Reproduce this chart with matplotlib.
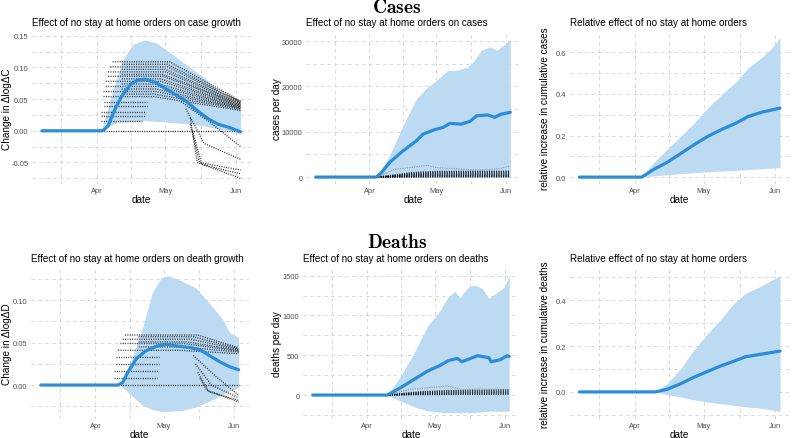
import matplotlib
matplotlib.use('Agg')
import matplotlib.pyplot as plt
import matplotlib.dates as mdates
from matplotlib.ticker import MultipleLocator, AutoMinorLocator, FixedLocator
import numpy as np

plt.rcParams['font.family'] = ['Liberation Sans', 'DejaVu Sans']
plt.rcParams['mathtext.fontset'] = 'cm'
plt.rcParams['lines.scale_dashes'] = False

Y = '2020-'

# ---- case growth (top left) ----
cg_line_dates = ['03-08', '04-03', '04-04', '04-06', '04-09', '04-12', '04-16', '04-19', '04-22', '04-27',
                 '05-01', '05-05', '05-10', '05-15', '05-20', '05-24', '05-29', '06-03']
cg_line = [0, 0, 0.001, 0.008, 0.034, 0.055, 0.074, 0.080, 0.0815, 0.076,
           0.067, 0.058, 0.047, 0.032, 0.0185, 0.0106, 0.0054, -0.0016]
cg_band_dates = ['03-08', '04-03', '04-07', '04-10', '04-13', '04-17', '04-22', '04-27', '05-01',
                 '05-07', '05-13', '05-19', '05-24', '05-30', '06-03']
cg_hi = [0, 0, 0.05, 0.087, 0.116, 0.137, 0.1435, 0.139, 0.129, 0.113, 0.097, 0.0815, 0.063, 0.045, 0.039]
cg_lo = [0, 0, 0.008, 0.013, 0.014, 0.0147, 0.016, 0.015, 0.014, 0.012, 0.0106, 0.007, 0.003, 0, -0.005]
cg_states = [
    (['04-08', '05-03', '06-03'], [0.109, 0.109, 0.047]),
    (['04-12', '05-02', '06-03'], [0.105, 0.105, 0.046]),
    (['04-07', '05-02', '06-03'], [0.101, 0.101, 0.045]),
    (['04-12', '05-01', '06-03'], [0.097, 0.097, 0.044]),
    (['04-06', '05-01', '06-03'], [0.093, 0.093, 0.043]),
    (['04-12', '04-30', '06-03'], [0.089, 0.089, 0.042]),
    (['04-06', '04-30', '06-03'], [0.086, 0.086, 0.041]),
    (['04-12', '04-29', '06-03'], [0.082, 0.082, 0.040]),
    (['04-05', '04-29', '06-03'], [0.078, 0.078, 0.039]),
    (['04-12', '04-28', '06-03'], [0.074, 0.074, 0.038]),
    (['04-05', '04-28', '06-03'], [0.070, 0.070, 0.037]),
    (['04-12', '04-27', '06-03'], [0.066, 0.066, 0.036]),
    (['04-04', '04-27', '06-03'], [0.062, 0.062, 0.035]),
    (['04-12', '04-26', '06-03'], [0.058, 0.058, 0.034]),
    (['04-04', '04-26', '06-03'], [0.054, 0.054, 0.032]),
    (['04-04', '04-23'], [0.046, 0.046]),
    (['04-04', '04-23'], [0.039, 0.039]),
    (['04-03', '04-22'], [0.030, 0.030]),
    (['04-03', '04-22'], [0.023, 0.023]),
    (['04-03', '04-21'], [0.015, 0.015]),
    (['05-08', '05-20', '06-03'], [0.046, 0.015, -0.025]),
    (['05-10', '05-18', '06-03'], [0.035, -0.02, -0.045]),
    (['05-12', '05-15', '06-03'], [0.02, -0.05, -0.075]),
    (['05-12', '05-16', '06-03'], [0.01, -0.05, -0.062]),
    (['05-13', '05-17', '06-03'], [0.0, -0.053, -0.068]),
    (['04-02', '06-03'], [0, 0]),
]

# ---- cases per day (top middle) ----
cs_line_dates = ['03-08', '04-04', '04-06', '04-10', '04-16', '04-22', '04-25', '04-30', '05-04', '05-07',
                 '05-12', '05-16', '05-19', '05-24', '05-27', '05-30', '06-03']
cs_line = [0, 0, 750, 3200, 5780, 8000, 9490, 10440, 10970, 11860,
           11700, 12300, 13550, 13700, 13200, 13900, 14300]
cs_band_dates = ['03-08', '04-04', '04-10', '04-16', '04-22', '04-27', '05-01', '05-06', '05-10', '05-15',
                 '05-18', '05-21', '05-25', '05-28', '06-01', '06-03']
cs_hi = [0, 0, 4670, 11330, 17270, 19850, 21330, 23550, 23550, 24300, 25780, 28000, 28750, 28000, 29500, 30400]
cs_lo = [0] * len(cs_hi)
cs_grey = (['04-05', '04-12', '04-19', '04-27', '05-01', '05-09', '05-19', '05-29', '06-03'],
           [0, 1700, 2080, 2600, 2080, 1860, 1560, 1860, 2440])
cs_states = [
    (['04-05', '04-20', '05-01', '06-03'], [0, 1000, 1250, 1300]),
    (['04-05', '04-20', '05-01', '06-03'], [0, 800, 1050, 1100]),
    (['04-05', '04-20', '05-01', '06-03'], [0, 650, 850, 900]),
    (['04-06', '04-20', '05-01', '06-03'], [0, 500, 650, 700]),
    (['04-06', '04-20', '05-01', '06-03'], [0, 350, 480, 520]),
    (['04-07', '04-20', '05-01', '06-03'], [0, 220, 320, 350]),
    (['04-07', '04-20', '05-01', '06-03'], [0, 100, 170, 190]),
    (['04-08', '06-03'], [0, 40]),
]

# ---- relative cumulative cases (top right) ----
rc_dates = ['03-08', '04-04', '04-09', '04-15', '04-21', '04-27', '05-03', '05-09', '05-15', '05-20',
            '05-26', '05-30', '06-03']
rc_line = [0, 0, 0.036, 0.071, 0.114, 0.158, 0.198, 0.231, 0.26, 0.291, 0.312, 0.322, 0.332]
rc_hi = [0, 0, 0.068, 0.133, 0.198, 0.263, 0.337, 0.401, 0.458, 0.523, 0.575, 0.615, 0.67]
rc_lo = [0, 0, 0.006, 0.012, 0.017, 0.022, 0.026, 0.03, 0.033, 0.036, 0.04, 0.043, 0.046]

# ---- death growth (bottom left) ----
dg_line_dates = ['03-08', '04-11', '04-13', '04-15', '04-19', '04-23', '04-28', '05-02', '05-07', '05-13',
                 '05-17', '05-21', '05-26', '05-30', '06-03']
dg_line = [0, 0, 0.003, 0.014, 0.031, 0.040, 0.046, 0.048, 0.046, 0.044, 0.0416, 0.035, 0.027, 0.0216, 0.018]
dg_band_dates = ['03-08', '04-12', '04-17', '04-22', '04-26', '04-30', '05-03', '05-09', '05-15', '05-21',
                 '05-27', '05-30', '06-03']
dg_hi = [0, 0, 0.031, 0.07, 0.109, 0.1267, 0.129, 0.1227, 0.115, 0.097, 0.0776, 0.062, 0.056]
dg_lo = [0, 0, -0.0126, -0.024, -0.029, -0.031, -0.031, -0.030, -0.026, -0.019, -0.011, -0.0067, -0.003]
dg_states = [
    (['04-14', '05-16', '06-03'], [0.059, 0.059, 0.044]),
    (['04-20', '05-14', '06-03'], [0.057, 0.057, 0.043]),
    (['04-13', '05-13', '06-03'], [0.054, 0.054, 0.042]),
    (['04-20', '05-11', '06-03'], [0.051, 0.051, 0.041]),
    (['04-12', '05-10', '06-03'], [0.049, 0.049, 0.040]),
    (['04-20', '05-09', '06-03'], [0.045, 0.045, 0.039]),
    (['04-11', '05-08', '06-03'], [0.041, 0.041, 0.037]),
    (['04-10', '04-29'], [0.033, 0.033]),
    (['04-10', '04-29'], [0.025, 0.025]),
    (['04-09', '04-29'], [0.0165, 0.0165]),
    (['04-09', '04-28'], [0.008, 0.008]),
    (['05-14', '05-24', '06-03'], [0.035, 0.01, -0.012]),
    (['05-15', '05-22', '06-03'], [0.025, 0.0, -0.015]),
    (['05-16', '05-21', '06-03'], [0.015, -0.008, -0.018]),
    (['05-17', '05-20', '06-03'], [0.008, -0.006, -0.02]),
    (['04-08', '06-03'], [0, 0]),
]

# ---- deaths per day (bottom middle) ----
ds_line_dates = ['03-08', '04-10', '04-16', '04-22', '04-28', '05-03', '05-07', '05-11', '05-13', '05-17',
                 '05-20', '05-25', '05-26', '05-30', '06-02', '06-03']
ds_line = [0, 0, 94, 199, 304, 367, 431, 461, 418, 461, 494, 469, 418, 443, 494, 486]
ds_band_dates = ['03-08', '04-10', '04-16', '04-22', '04-28', '05-03', '05-07', '05-10', '05-12', '05-16',
                 '05-19', '05-22', '05-25', '05-29', '06-01', '06-03']
ds_hi = [0, 0, 241, 537, 874, 1044, 1234, 1305, 1221, 1361, 1381, 1339, 1213, 1297, 1361, 1500]
ds_lo = [0, 0, -76, -150, -200, -215, -220, -222, -223, -222, -218, -210, -203, -203, -203, -203]
ds_grey = [
    (['04-10', '04-20', '04-29', '05-06', '05-12'], [0, 72, 94, 114, 81]),
    (['04-10', '04-25', '05-10', '05-20', '06-03'], [0, 45, 60, 75, 70]),
]
ds_states = [
    (['04-10', '04-25', '05-10', '06-03'], [0, 40, 55, 62]),
    (['04-10', '04-25', '05-10', '06-03'], [0, 30, 42, 48]),
    (['04-11', '04-25', '05-10', '06-03'], [0, 20, 30, 35]),
    (['04-11', '04-25', '05-10', '06-03'], [0, 12, 18, 22]),
    (['04-12', '04-25', '05-10', '06-03'], [0, 5, 8, 10]),
]

# ---- relative cumulative deaths (bottom right) ----
rd_dates = ['03-08', '04-10', '04-15', '04-21', '04-26', '05-02', '05-08', '05-14', '05-19', '05-25', '06-03']
rd_line = [0, 0, 0.0116, 0.036, 0.061, 0.087, 0.112, 0.134, 0.153, 0.163, 0.178]
rd_hi = [0, 0, 0.036, 0.102, 0.175, 0.247, 0.313, 0.386, 0.429, 0.458, 0.506]
rd_lo = [0, 0, -0.012, -0.022, -0.033, -0.0436, -0.051, -0.0585, -0.065, -0.07, -0.085]

BLUE = '#2b8cd8'
BAND = '#bcdaf2'
GRID = '#d2d2d2'
DOTS = (0, (0.7, 1.0))


def dt(lst):
    return np.array([Y + s for s in lst], dtype='datetime64[D]')


fig = plt.figure(figsize=(7.93, 4.39), dpi=100)
W, H = 793.0, 439.0


def panel(left, right, top, bottom):
    ax = fig.add_axes([left / W, 1 - bottom / H, (right - left) / W, (bottom - top) / H])
    ax.box_px = (left, right, top, bottom)
    return ax


def style(ax, title, ylabel, ylim, ymaj, yfmt, ylab_x):
    left, right, top, bottom = ax.box_px
    ax.set_xlim(np.datetime64('2020-03-08') - np.timedelta64(104, 'h'),
                np.datetime64('2020-06-03') + np.timedelta64(104, 'h'))
    ax.set_ylim(*ylim)
    ax.xaxis.set_major_locator(FixedLocator(mdates.date2num(dt(['04-01', '05-01', '06-01']))))
    ax.xaxis.set_major_formatter(mdates.DateFormatter('%b'))
    mids = mdates.date2num(dt(['03-01', '04-01', '05-01'])) + np.array([15.5, 15.0, 15.5])
    ax.xaxis.set_minor_locator(FixedLocator(mids))
    ax.yaxis.set_major_locator(MultipleLocator(ymaj))
    ax.yaxis.set_minor_locator(AutoMinorLocator(2))
    ax.yaxis.set_major_formatter(yfmt)
    for s in ax.spines.values():
        s.set_visible(False)
    ax.grid(True, which='both', color=GRID, lw=0.6, ls=(0, (2.5, 2.5)))
    ax.set_axisbelow(True)
    ax.tick_params(which='both', length=0, pad=2.5, labelsize=5.4, labelcolor='#4d4d4d')
    ax.set_title(title, loc='left', fontsize=7.1, pad=5)
    ax.set_xlabel('date', fontsize=7.2, va='center')
    ax.xaxis.set_label_coords(0.5, -15.0 / (bottom - top))
    ax.set_ylabel(ylabel, fontsize=7.2, va='center')
    ax.yaxis.set_label_coords((ylab_x - left) / (right - left), 0.5)


def draw(ax, ldates, line, bdates, hi, lo, states=(), grey=()):
    ax.fill_between(dt(bdates), lo, hi, color=BAND, lw=0)
    for sd, sv in grey:
        ax.plot(dt(sd), sv, color='#8c8c8c', lw=0.8, ls=DOTS)
    for sd, sv in states:
        ax.plot(dt(sd), sv, color='black', lw=1.0, ls=DOTS, alpha=0.8)
    ax.plot(dt(ldates), line, color=BLUE, lw=2.3, solid_capstyle='round')


fmt2 = matplotlib.ticker.FormatStrFormatter('%.2f')
fmt1 = matplotlib.ticker.FormatStrFormatter('%.1f')
fmt0 = matplotlib.ticker.FormatStrFormatter('%d')

ax1 = panel(32, 250.5, 33, 185)
draw(ax1, cg_line_dates, cg_line, cg_band_dates, cg_hi, cg_lo, cg_states)
style(ax1, 'Effect of no stay at home orders on case growth', 'Change in ΔlogΔC',
      (-0.084, 0.156), 0.05, fmt2, 7)

ax2 = panel(306, 520, 33, 185)
draw(ax2, cs_line_dates, cs_line, cs_band_dates, cs_hi, cs_lo, cs_states, [cs_grey])
style(ax2, 'Effect of no stay at home orders on cases', 'cases per day', (-1525, 32025), 10000, fmt0, 277)

ax3 = panel(569.5, 790, 33, 185)
draw(ax3, rc_dates, rc_line, rc_dates, rc_hi, rc_lo)
style(ax3, 'Relative effect of no stay at home orders', 'relative increase in cumulative cases',
      (-0.033, 0.698), 0.2, fmt1, 545)

ax4 = panel(31, 248.5, 269, 420)
draw(ax4, dg_line_dates, dg_line, dg_band_dates, dg_hi, dg_lo, dg_states)
style(ax4, 'Effect of no stay at home orders on death growth', 'Change in ΔlogΔD',
      (-0.040, 0.138), 0.05, fmt2, 7)

ax5 = panel(303, 519, 269, 420)
draw(ax5, ds_line_dates, ds_line, ds_band_dates, ds_hi, ds_lo, ds_states, ds_grey)
style(ax5, 'Effect of no stay at home orders on deaths', 'deaths per day', (-301, 1596), 500, fmt0, 277)

ax6 = panel(569.5, 790, 269, 420)
draw(ax6, rd_dates, rd_line, rd_dates, rd_hi, rd_lo)
style(ax6, 'Relative effect of no stay at home orders', 'relative increase in cumulative deaths',
      (-0.118, 0.54), 0.2, fmt1, 545)

fig.text(397 / W, 1 - 8 / H, r'$\mathbf{Cases}$', ha='center', va='center', fontsize=14)
fig.text(397 / W, 1 - 243 / H, r'$\mathbf{Deaths}$', ha='center', va='center', fontsize=14)

fig.savefig('out.png', dpi=100)
